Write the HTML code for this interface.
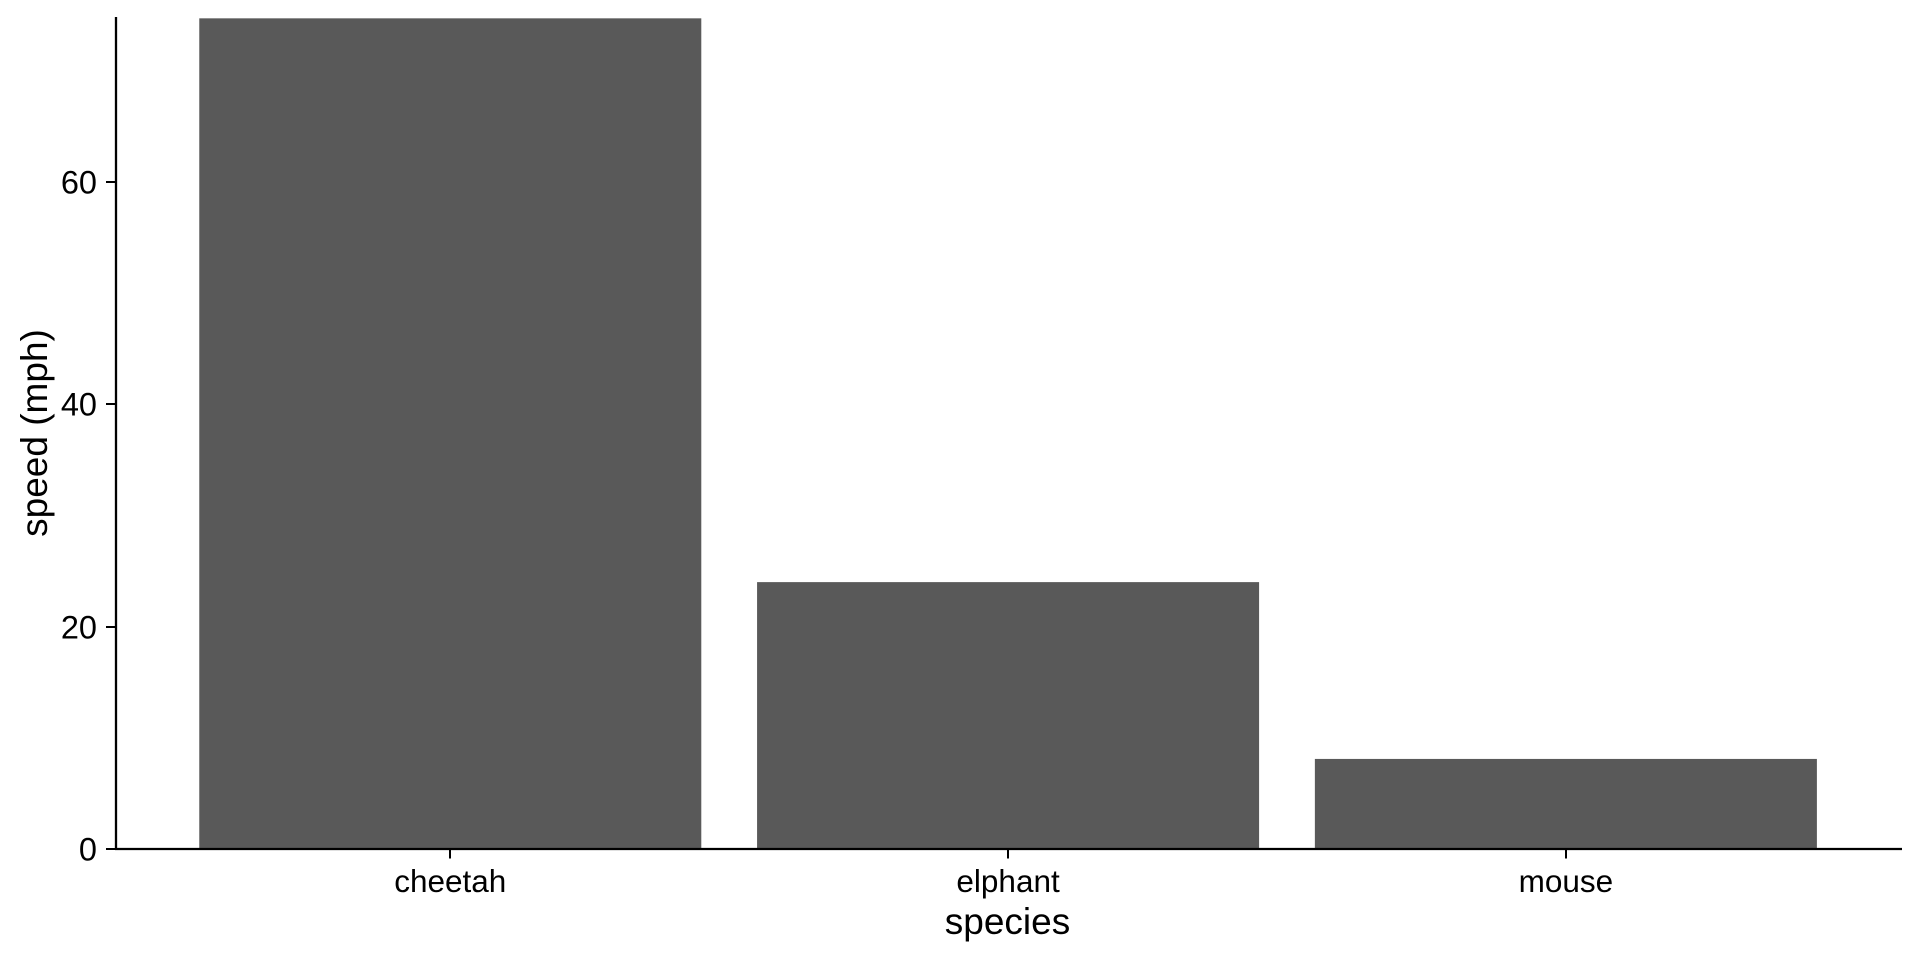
<!DOCTYPE html>
<html lang="en">
<head>
<meta charset="utf-8">
<title>Speed by species</title>
<style>
  html, body { margin: 0; padding: 0; background: #ffffff; }
  svg { display: block; }
  text { font-family: "Liberation Sans", Arial, sans-serif; fill: #000000; }
  .x-tick-label { font-size: 31.5px; }
  .y-tick-label { font-size: 32.5px; }
  .axis-title { font-size: 37px; }
</style>
</head>
<body>
<svg id="chart" xmlns="http://www.w3.org/2000/svg" width="1920" height="960" viewBox="0 0 1920 960">
  <rect x="0" y="0" width="1920" height="960" fill="#ffffff"></rect>
  <g id="bars"></g>
  <g id="y-ticks"></g>
  <g id="x-ticks"></g>
  <line x1="116" y1="17" x2="116" y2="850" stroke="#000000" stroke-width="2.3"></line>
  <line x1="115" y1="849" x2="1902" y2="849" stroke="#000000" stroke-width="2.2"></line>
  <text class="axis-title" x="1007.5" y="934" text-anchor="middle">species</text>
  <text class="axis-title" x="0" y="0" text-anchor="middle" transform="translate(47 433) rotate(-90)">speed (mph)</text>
</svg>
<script>
const categories = ['cheetah', 'elphant', 'mouse'];
const speeds = [74.7, 24, 8.1];
const yTickValues = [0, 20, 40, 60];

const NS = 'http://www.w3.org/2000/svg';
const xOrigin = 115.6;
const xUnit = 557.8;
const xExpand = 0.6;
const barFraction = 0.9;
const yZero = 849;
const yUnit = 11.12;

function xScale(index) {
  return xOrigin + (xExpand + index) * xUnit;
}
function yScale(value) {
  return yZero - value * yUnit;
}
function make(tag, attrs) {
  const el = document.createElementNS(NS, tag);
  Object.keys(attrs).forEach(function (key) {
    el.setAttribute(key, attrs[key]);
  });
  return el;
}

const barsGroup = document.getElementById('bars');
const xTicksGroup = document.getElementById('x-ticks');
const yTicksGroup = document.getElementById('y-ticks');

categories.forEach(function (name, i) {
  const center = xScale(i);
  const width = xUnit * barFraction;
  const bar = make('rect', {
    x: center - width / 2,
    y: yScale(speeds[i]),
    width: width,
    height: yScale(0) - yScale(speeds[i]),
    fill: '#595959'
  });
  
  
  barsGroup.appendChild(bar);

  const tickX = Math.round(center);
  const tick = make('line', {
    x1: tickX, y1: 849, x2: tickX, y2: 858.5,
    stroke: '#000000', 'stroke-width': 2
  });
  
  
  xTicksGroup.appendChild(tick);

  const label = make('text', {
    x: center, y: 892, 'text-anchor': 'middle', class: 'x-tick-label'
  });
  
  
  label.textContent = name;
  xTicksGroup.appendChild(label);
});

yTickValues.forEach(function (value) {
  const y = Math.round(yScale(value));
  const tick = make('line', {
    x1: 106, y1: y, x2: 116, y2: y,
    stroke: '#000000', 'stroke-width': 2
  });
  
  
  yTicksGroup.appendChild(tick);

  const label = make('text', {
    x: 97, y: y + 11.5, 'text-anchor': 'end', class: 'y-tick-label'
  });
  
  
  label.textContent = String(value);
  yTicksGroup.appendChild(label);
});
</script>
</body>
</html>
